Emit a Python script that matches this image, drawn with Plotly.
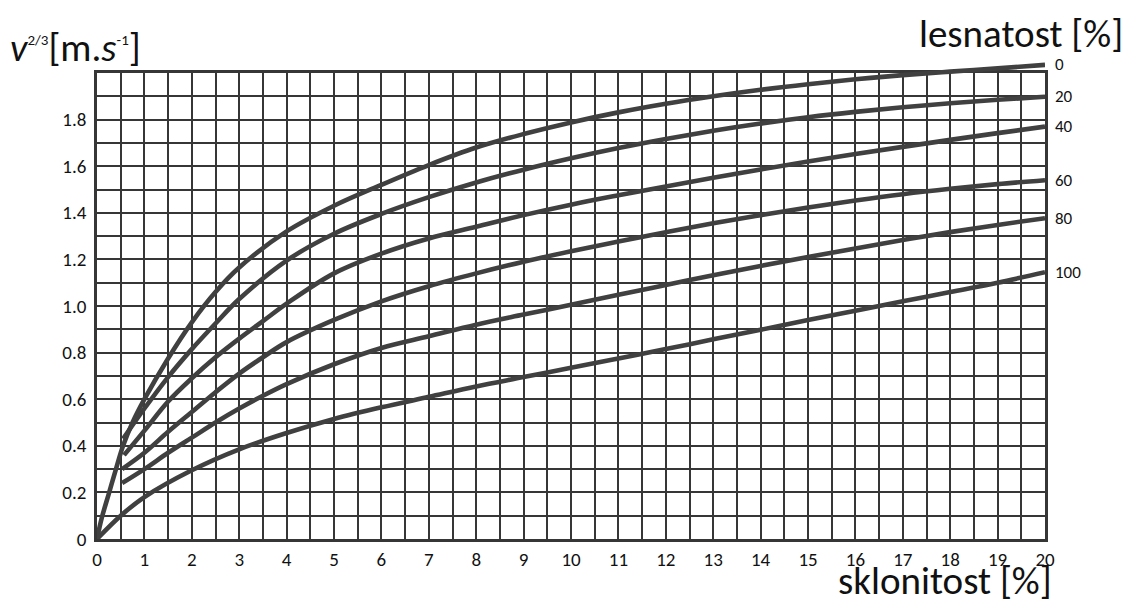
import plotly.graph_objects as go

# ---- data ----
forest_labels = ["0", "20", "40", "60", "80", "100"]

x_f0 = [0, 0.1, 0.25, 0.4, 0.55, 0.75, 1.0, 1.5, 2.0, 2.5, 3.0, 4.0, 5.0, 6.0, 7.0, 8.0, 9.0,
        10.0, 11.0, 12.0, 13.0, 14.0, 15.0, 16.0, 17.0, 18.0, 19.0, 20.0]
y_f0 = [0, 0.09, 0.195, 0.30, 0.40, 0.50, 0.60, 0.775, 0.93, 1.06, 1.165, 1.32, 1.43, 1.52,
        1.605, 1.68, 1.738, 1.788, 1.831, 1.868, 1.90, 1.928, 1.952, 1.973, 1.991, 2.006, 2.02,
        2.035]

x_f20 = [0.55, 1.0, 1.5, 2.0, 2.5, 3.0, 4.0, 5.0, 6.0, 7.0, 8.0, 9.0, 10.0, 11.0, 12.0, 13.0,
         14.0, 15.0, 16.0, 17.0, 18.0, 19.0, 20.0]
y_f20 = [0.43, 0.56, 0.695, 0.815, 0.925, 1.03, 1.195, 1.31, 1.395, 1.467, 1.53, 1.585, 1.634,
         1.678, 1.717, 1.752, 1.783, 1.81, 1.833, 1.853, 1.87, 1.885, 1.898]

x_f40 = [0.57, 1.0, 1.5, 2.0, 2.5, 3.0, 3.5, 4.0, 5.0, 6.0, 7.0, 8.0, 9.0, 10.0, 11.0, 12.0,
         13.0, 14.0, 15.0, 16.0, 17.0, 18.0, 19.0, 20.0]
y_f40 = [0.36, 0.465, 0.59, 0.69, 0.78, 0.86, 0.935, 1.01, 1.14, 1.225, 1.29, 1.34, 1.39,
         1.435, 1.475, 1.513, 1.55, 1.586, 1.62, 1.652, 1.683, 1.713, 1.742, 1.77]

x_f60 = [0.53, 1.0, 1.5, 2.0, 2.5, 3.0, 3.5, 4.0, 5.0, 6.0, 7.0, 8.0, 9.0, 10.0, 11.0, 12.0,
         13.0, 14.0, 15.0, 16.0, 17.0, 18.0, 19.0, 20.0]
y_f60 = [0.30, 0.37, 0.46, 0.545, 0.63, 0.71, 0.78, 0.845, 0.94, 1.02, 1.085, 1.14, 1.19, 1.235,
         1.277, 1.317, 1.355, 1.39, 1.423, 1.453, 1.48, 1.503, 1.523, 1.54]

x_f80 = [0.53, 1.0, 1.5, 2.0, 2.5, 3.0, 3.5, 4.0, 5.0, 6.0, 7.0, 8.0, 9.0, 10.0, 11.0, 12.0,
         13.0, 14.0, 15.0, 16.0, 17.0, 18.0, 19.0, 20.0]
y_f80 = [0.24, 0.30, 0.37, 0.435, 0.50, 0.56, 0.615, 0.665, 0.75, 0.82, 0.87, 0.92, 0.963,
         1.005, 1.048, 1.09, 1.132, 1.172, 1.21, 1.247, 1.283, 1.317, 1.348, 1.377]

x_f100 = [0, 0.5, 1.0, 2.0, 3.0, 4.0, 5.0, 6.0, 7.0, 8.0, 9.0, 10.0, 11.0, 12.0, 13.0, 14.0,
          15.0, 16.0, 17.0, 18.0, 19.0, 20.0]
y_f100 = [0, 0.10, 0.18, 0.295, 0.385, 0.455, 0.515, 0.565, 0.61, 0.655, 0.695, 0.735, 0.775,
          0.815, 0.857, 0.898, 0.94, 0.98, 1.02, 1.06, 1.10, 1.145]

x_tickvals = list(range(0, 21))
x_ticktext = [str(v) for v in x_tickvals]
y_tickvals = [0, 0.2, 0.4, 0.6, 0.8, 1.0, 1.2, 1.4, 1.6, 1.8]
y_ticktext = ["0", "0.2", "0.4", "0.6", "0.8", "1.0", "1.2", "1.4", "1.6", "1.8"]

series_x = [x_f0, x_f20, x_f40, x_f60, x_f80, x_f100]
series_y = [y_f0, y_f20, y_f40, y_f60, y_f80, y_f100]

# ---- styling ----
FONT = "Calibri, Carlito, Lato, sans-serif"
GRID = "#363636"
CURVE = "#404040"
TXT = "#111111"

OFF = 8                      # page body margin of the browser
W, H = 1132 - OFF, 605 - OFF
# plot frame in page pixels: left 97, right 1045, top 73 (y=2.0), bottom 539 (y=0)
M_L = 97 - OFF
M_R = W - (1045 - OFF)
M_B = H - (539 - OFF)
M_T = 50 - OFF
plot_h = H - M_T - M_B
plot_w = W - M_L - M_R
grid_top_px = 73 - OFF
D = (H - M_B - grid_top_px) / plot_h      # domain top of the gridded axes
Y_MAX = 2.0

fig = go.Figure()

# empty trace so the gridded x/y subplot is drawn
fig.add_trace(go.Scatter(x=[], y=[], xaxis="x", yaxis="y", showlegend=False,
                         hoverinfo="skip"))

for xs, ys, lab in zip(series_x, series_y, forest_labels):
    fig.add_trace(go.Scatter(
        x=xs, y=ys, mode="lines", name=lab,
        line=dict(color=CURVE, width=4.6, shape="spline", smoothing=1.0),
        xaxis="x2", yaxis="y2", hoverinfo="skip", showlegend=False,
    ))

fig.update_layout(
    width=W, height=H,
    margin=dict(l=M_L, r=M_R, t=M_T, b=M_B),
    paper_bgcolor="white", plot_bgcolor="rgba(0,0,0,0)",
    font=dict(family=FONT, color=TXT),
    showlegend=False,
    xaxis=dict(
        domain=[0, 1], range=[0, 20], anchor="y",
        tickvals=x_tickvals, ticktext=x_ticktext,
        tickfont=dict(size=19, family=FONT, color=TXT),
        showgrid=True, gridcolor=GRID, gridwidth=2.2,
        minor=dict(dtick=0.5, showgrid=True, gridcolor=GRID, gridwidth=2.2),
        showline=True, mirror=True, linecolor=GRID, linewidth=2.6,
        zeroline=False, ticks="", ticklabelstandoff=1,
    ),
    yaxis=dict(
        domain=[0, D], range=[0, Y_MAX], anchor="x",
        tickvals=y_tickvals, ticktext=y_ticktext,
        tickfont=dict(size=19, family=FONT, color=TXT),
        showgrid=True, gridcolor=GRID, gridwidth=2.2,
        minor=dict(dtick=0.1, showgrid=True, gridcolor=GRID, gridwidth=2.2),
        showline=True, mirror=True, linecolor=GRID, linewidth=2.6,
        zeroline=False, ticks="", ticklabelstandoff=4,
    ),
    xaxis2=dict(domain=[0, 1], range=[0, 20], anchor="y2", visible=False),
    yaxis2=dict(domain=[0, 1], range=[0, Y_MAX / D], anchor="x2", visible=False),
)

# curve labels at the right ends
for ys, lab in zip(series_y, forest_labels):
    fig.add_annotation(
        x=20, y=ys[-1], xref="x2", yref="y2", text=lab, showarrow=False,
        xanchor="left", yanchor="middle", xshift=8,
        font=dict(size=17, family=FONT, color=TXT),
    )


def px_to_paper(px, py):
    # page pixels -> paper coordinates
    return (px - OFF - M_L) / plot_w, (H - M_B - (py - OFF)) / plot_h


# axis titles as annotations
tx, ty = px_to_paper(1125, 34)
fig.add_annotation(x=tx, y=ty, xref="paper", yref="paper", text="lesnatost [%]",
                   showarrow=False, xanchor="right", yanchor="middle",
                   font=dict(size=39, family=FONT, color=TXT))

tx, ty = px_to_paper(1054, 580)
fig.add_annotation(x=tx, y=ty, xref="paper", yref="paper", text="sklonitost [%]",
                   showarrow=False, xanchor="right", yanchor="middle",
                   font=dict(size=39, family=FONT, color=TXT))

tx, ty = px_to_paper(8, 47)
fig.add_annotation(
    x=tx, y=ty, xref="paper", yref="paper",
    text="<i>v</i><sup><span style='font-size:15px'>2/3</span></sup>[m.<i>s</i>"
         "<sup><span style='font-size:15px'>-1</span></sup>]",
    showarrow=False, xanchor="left", yanchor="middle",
    font=dict(size=39, family=FONT, color=TXT))

fig.write_html("out.html")
